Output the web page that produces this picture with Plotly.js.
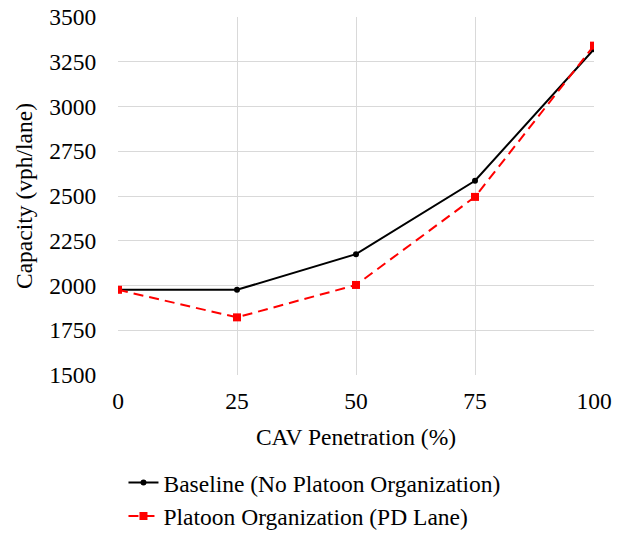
<!DOCTYPE html>
<html>
<head>
<meta charset="utf-8">
<script src="https://cdn.plot.ly/plotly-3.0.1.min.js"></script>
<style>html,body{margin:0;padding:0;background:#fff;}#chart{width:633px;height:534px;}</style>
</head>
<body>
<div id="chart"></div>
<script>
const penetration = [0, 25, 50, 75, 100];
const baseline = [1976, 1976, 2175, 2585, 3320];
const platoon = [1976, 1822, 2003, 2495, 3340];
const xTicks = [0, 25, 50, 75, 100];
const yTicks = [1500, 1750, 2000, 2250, 2500, 2750, 3000, 3250, 3500];
const seriesNames = ["Baseline (No Platoon Organization)", "Platoon Organization (PD Lane)"];

const font = "Liberation Serif";
const fs = 23.5;
const traces = [
  {
    x: penetration, y: baseline, name: seriesNames[0], type: "scatter", mode: "lines+markers",
    line: {color: "#000000", width: 2},
    marker: {symbol: "circle", size: 6, color: "#000000"}
  },
  {
    x: penetration, y: platoon, name: seriesNames[1], type: "scatter", mode: "lines+markers",
    line: {color: "#ff0000", width: 2, dash: "10px,6px"},
    marker: {symbol: "square", size: 8, color: "#ff0000"}
  }
];
const layout = {
  width: 633, height: 534,
  margin: {l: 118, r: 39, t: 17, b: 159, autoexpand: false},
  paper_bgcolor: "#ffffff", plot_bgcolor: "#ffffff",
  font: {family: font, size: fs, color: "#000000"},
  showlegend: true,
  legend: {
    orientation: "v", x: 0.0115, y: -0.2394, xanchor: "left", yanchor: "top",
    font: {family: font, size: fs, color: "#000000"},
    tracegroupgap: 0, itemwidth: 30
  },
  xaxis: {
    range: [0, 100], tickvals: xTicks, ticktext: xTicks.map(String),
    showgrid: true, gridcolor: "#d9d9d9", gridwidth: 1,
    zeroline: false, showline: false, ticks: "outside", ticklen: 5, tickcolor: "rgba(0,0,0,0)",
    tickfont: {family: font, size: fs}, automargin: false,
    title: {text: "CAV Penetration (%)", font: {family: font, size: fs}, standoff: 15}
  },
  yaxis: {
    range: [1500, 3500], tickvals: yTicks, ticktext: yTicks.map(String),
    showgrid: true, gridcolor: "#d9d9d9", gridwidth: 1,
    zeroline: false, showline: false, ticks: "outside", ticklen: 16, tickcolor: "rgba(0,0,0,0)",
    tickfont: {family: font, size: fs}, automargin: false,
    title: {text: "Capacity (vph/lane)", font: {family: font, size: fs}, standoff: 10}
  }
};
Plotly.newPlot("chart", traces, layout, {displayModeBar: false, staticPlot: true});
</script>
</body>
</html>
